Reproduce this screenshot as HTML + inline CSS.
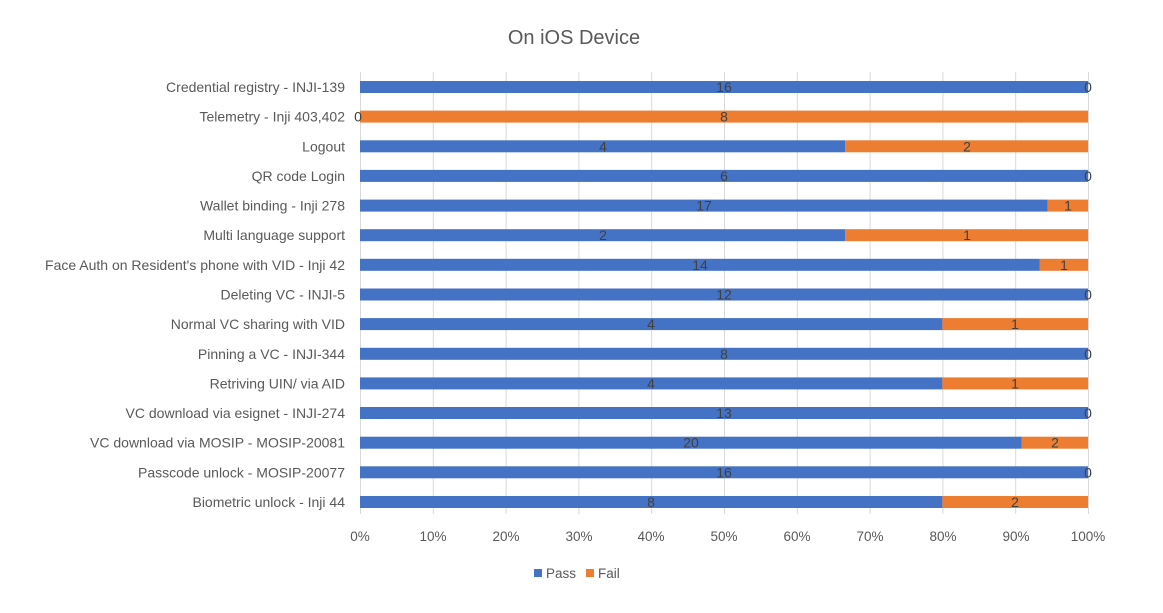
<!DOCTYPE html>
<html><head><meta charset="utf-8"><style>
html,body{margin:0;padding:0;background:#fff;}
svg{display:block;font-family:"Liberation Sans",sans-serif;}
</style></head><body>
<svg width="1163" height="613" viewBox="0 0 1163 613" xmlns="http://www.w3.org/2000/svg">
<rect width="1163" height="613" fill="#fff"/>
<text x="574" y="44" font-size="20" fill="#595959" text-anchor="middle">On iOS Device</text>
<g stroke="#d9d9d9" stroke-width="1">
<line x1="360.5" y1="72" x2="360.5" y2="514"/><line x1="433.3" y1="72" x2="433.3" y2="514"/><line x1="506.1" y1="72" x2="506.1" y2="514"/><line x1="578.9" y1="72" x2="578.9" y2="514"/><line x1="651.7" y1="72" x2="651.7" y2="514"/><line x1="724.5" y1="72" x2="724.5" y2="514"/><line x1="797.3" y1="72" x2="797.3" y2="514"/><line x1="870.1" y1="72" x2="870.1" y2="514"/><line x1="942.9" y1="72" x2="942.9" y2="514"/><line x1="1015.7" y1="72" x2="1015.7" y2="514"/><line x1="1088.5" y1="72" x2="1088.5" y2="514"/>
</g>
<g font-size="13.5" fill="#595959" text-anchor="middle">
<text x="360" y="541">0%</text><text x="433" y="541">10%</text><text x="506" y="541">20%</text><text x="579" y="541">30%</text><text x="651" y="541">40%</text><text x="724" y="541">50%</text><text x="797" y="541">60%</text><text x="870" y="541">70%</text><text x="943" y="541">80%</text><text x="1016" y="541">90%</text><text x="1088" y="541">100%</text>
</g>
<g font-size="14" fill="#595959" text-anchor="end">
<text x="345" y="92">Credential registry - INJI-139</text>
<text x="345" y="121.6">Telemetry - Inji 403,402</text>
<text x="345" y="151.3">Logout </text>
<text x="345" y="180.9">QR code Login</text>
<text x="345" y="210.6">Wallet binding - Inji 278</text>
<text x="345" y="240.2">Multi language support</text>
<text x="345" y="269.8">Face Auth on Resident's phone with VID - Inji 42</text>
<text x="345" y="299.5">Deleting VC - INJI-5</text>
<text x="345" y="329.1">Normal VC sharing with VID</text>
<text x="345" y="358.8">Pinning  a VC - INJI-344</text>
<text x="345" y="388.4">Retriving UIN/ via AID </text>
<text x="345" y="418">VC download via esignet - INJI-274</text>
<text x="345" y="447.7">VC download via MOSIP - MOSIP-20081</text>
<text x="345" y="477.3">Passcode unlock - MOSIP-20077</text>
<text x="345" y="507">Biometric unlock - Inji 44</text>
</g>
<g>
<rect x="360" y="81" width="728" height="12" fill="#4472c4"/>
<rect x="360" y="110.6" width="728" height="12" fill="#ed7d31"/>
<rect x="360" y="140.3" width="485.3" height="12" fill="#4472c4"/><rect x="845.3" y="140.3" width="242.7" height="12" fill="#ed7d31"/>
<rect x="360" y="169.9" width="728" height="12" fill="#4472c4"/>
<rect x="360" y="199.6" width="687.6" height="12" fill="#4472c4"/><rect x="1047.6" y="199.6" width="40.4" height="12" fill="#ed7d31"/>
<rect x="360" y="229.2" width="485.3" height="12" fill="#4472c4"/><rect x="845.3" y="229.2" width="242.7" height="12" fill="#ed7d31"/>
<rect x="360" y="258.8" width="679.5" height="12" fill="#4472c4"/><rect x="1039.5" y="258.8" width="48.5" height="12" fill="#ed7d31"/>
<rect x="360" y="288.5" width="728" height="12" fill="#4472c4"/>
<rect x="360" y="318.1" width="582.4" height="12" fill="#4472c4"/><rect x="942.4" y="318.1" width="145.6" height="12" fill="#ed7d31"/>
<rect x="360" y="347.8" width="728" height="12" fill="#4472c4"/>
<rect x="360" y="377.4" width="582.4" height="12" fill="#4472c4"/><rect x="942.4" y="377.4" width="145.6" height="12" fill="#ed7d31"/>
<rect x="360" y="407" width="728" height="12" fill="#4472c4"/>
<rect x="360" y="436.7" width="661.8" height="12" fill="#4472c4"/><rect x="1021.8" y="436.7" width="66.2" height="12" fill="#ed7d31"/>
<rect x="360" y="466.3" width="728" height="12" fill="#4472c4"/>
<rect x="360" y="496" width="582.4" height="12" fill="#4472c4"/><rect x="942.4" y="496" width="145.6" height="12" fill="#ed7d31"/>
</g>
<g font-size="14" fill="#404040" text-anchor="middle">
<text x="724" y="92">16</text><text x="1088" y="92">0</text>
<text x="358" y="121.6">0</text><text x="724" y="121.6">8</text>
<text x="603" y="151.3">4</text><text x="967" y="151.3">2</text>
<text x="724" y="180.9">6</text><text x="1088" y="180.9">0</text>
<text x="704" y="210.6">17</text><text x="1068" y="210.6">1</text>
<text x="603" y="240.2">2</text><text x="967" y="240.2">1</text>
<text x="700" y="269.8">14</text><text x="1064" y="269.8">1</text>
<text x="724" y="299.5">12</text><text x="1088" y="299.5">0</text>
<text x="651" y="329.1">4</text><text x="1015" y="329.1">1</text>
<text x="724" y="358.8">8</text><text x="1088" y="358.8">0</text>
<text x="651" y="388.4">4</text><text x="1015" y="388.4">1</text>
<text x="724" y="418">13</text><text x="1088" y="418">0</text>
<text x="691" y="447.7">20</text><text x="1055" y="447.7">2</text>
<text x="724" y="477.3">16</text><text x="1088" y="477.3">0</text>
<text x="651" y="507">8</text><text x="1015" y="507">2</text>
</g>
<rect x="534" y="569" width="8" height="8" fill="#4472c4"/>
<text x="546" y="578" font-size="13.5" fill="#595959">Pass</text>
<rect x="586" y="569" width="8" height="8" fill="#ed7d31"/>
<text x="598" y="578" font-size="13.5" fill="#595959">Fail</text>
</svg>
</body></html>
